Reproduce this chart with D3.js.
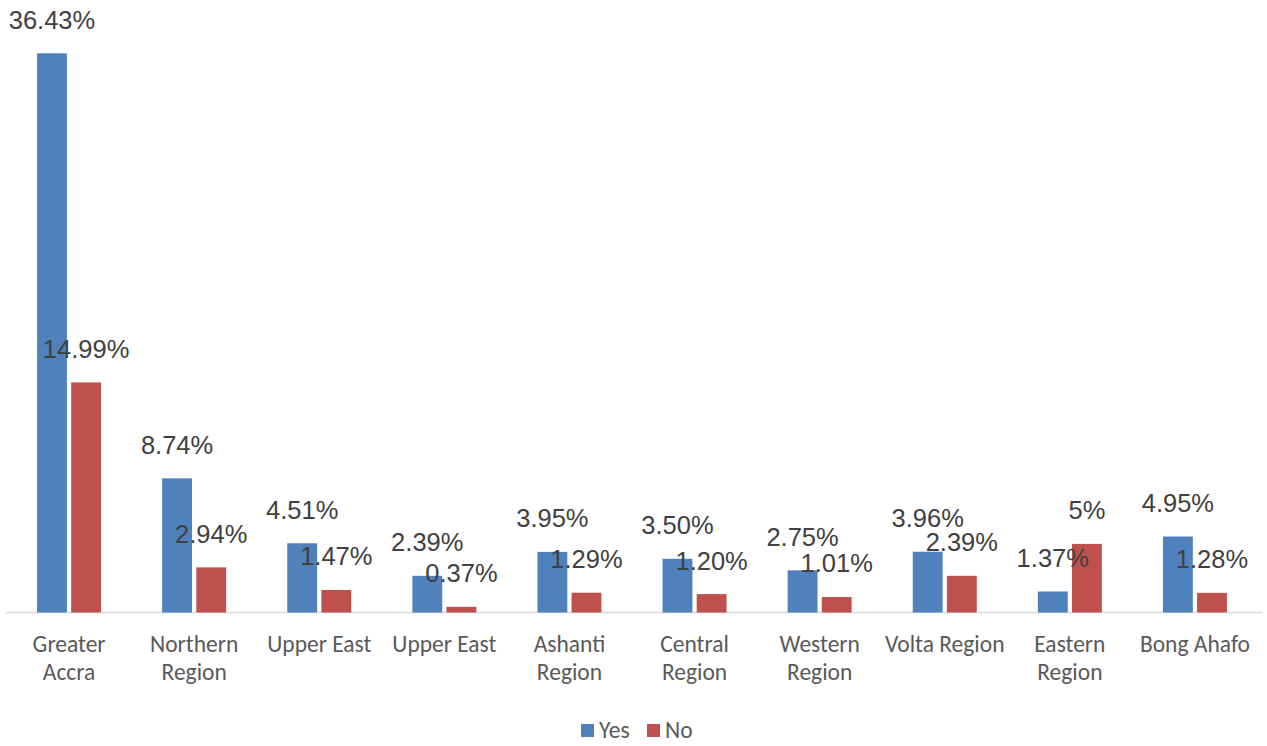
<!DOCTYPE html>
<html>
<head>
<meta charset="utf-8">
<script src="https://cdn.jsdelivr.net/npm/d3@7"></script>
<style>
  body { margin: 0; background: #fff; }
  svg { display: block; }
</style>
</head>
<body>
<div id="chart"></div>
<script>
var regions = ["Greater\nAccra", "Northern\nRegion", "Upper East", "Upper East", "Ashanti\nRegion",
               "Central\nRegion", "Western\nRegion", "Volta Region", "Eastern\nRegion", "Bong Ahafo"];
var yesValues = [36.43, 8.74, 4.51, 2.39, 3.95, 3.50, 2.75, 3.96, 1.37, 4.95];
// Eastern "No" bar is drawn lower than its "5%" label suggests
var noValues  = [14.99, 2.94, 1.47, 0.37, 1.29, 1.20, 1.01, 2.39, 4.47, 1.28];
var yesLabels = ["36.43%", "8.74%", "4.51%", "2.39%", "3.95%", "3.50%", "2.75%", "3.96%", "1.37%", "4.95%"];
var noLabels  = ["14.99%", "2.94%", "1.47%", "0.37%", "1.29%", "1.20%", "1.01%", "2.39%", "5%", "1.28%"];
var seriesNames = ["Yes", "No"];
var seriesColors = ["#4f81bd", "#c0504d"];

(function () {
    var width = 1267, height = 746;
    var baseline = 612.5;

    var svg = d3.select("#chart")
                .append("svg")
                .attr("width", width)
                .attr("height", height);

    var x = d3.scaleBand()
              .domain(d3.range(regions.length))
              .range([6.5, 1257.5]);

    var inner = d3.scaleBand()
                  .domain(seriesNames)
                  .range([x.bandwidth()/2 - 32, x.bandwidth()/2 + 32])
                  .paddingInner(0.125);

    var y = d3.scaleLinear()
              .domain([0, 40])
              .range([baseline, baseline - 614]);

    var rows = regions.map(function (r, i) {
        return [
            {s: "Yes", v: yesValues[i], label: yesLabels[i], c: seriesColors[0]},
            {s: "No",  v: noValues[i],  label: noLabels[i],  c: seriesColors[1]}
        ];
    });

    // axis line
    svg.append("line")
       .attr("x1", 6).attr("x2", 1262)
       .attr("y1", baseline).attr("y2", baseline)
       .attr("stroke", "#d9d9d9")
       .attr("stroke-width", 1.5);

    var groups = svg.selectAll(".region")
                    .data(rows)
                    .enter().append("g")
                    .attr("class", "region")
                    .attr("transform", function (d, i) { return "translate(" + x(i) + ",0)"; });

    groups.selectAll("rect")
          .data(function (d) { return d; })
          .enter().append("rect")
          .attr("x", function (d) { return inner(d.s); })
          .attr("width", inner.bandwidth())
          .attr("y", function (d) { return y(d.v); })
          .attr("height", function (d) { return baseline - y(d.v); })
          .attr("fill", function (d) { return d.c; });

    // value labels
    groups.selectAll("text.val")
          .data(function (d) { return d; })
          .enter().append("text")
          .attr("class", "val")
          .attr("x", function (d) { return inner(d.s) + inner.bandwidth()/2; })
          .attr("y", function (d) { return y(d.v) - 24.5; })
          .attr("text-anchor", "middle")
          .attr("font-family", "'Liberation Sans', Arial, sans-serif")
          .attr("font-size", 25.5)
          .attr("fill", "#404040")
          .text(function (d) { return d.label; });

    // category labels
    svg.selectAll(".cat")
       .data(regions)
       .enter().append("text")
       .attr("class", "cat")
       .attr("text-anchor", "middle")
       .attr("font-family", "Carlito, Calibri, Lato, sans-serif")
       .attr("font-size", 23.5)
       .attr("fill", "#595959")
       .attr("transform", function (d, i) { return "translate(" + (x(i) + x.bandwidth()/2) + ",652)"; })
       .each(function (d) {
           var t = d3.select(this);
           d.split("\n").forEach(function (line, k) {
               t.append("tspan").attr("x", 0).attr("y", k * 28).text(line);
           });
       });

    // legend
    var legend = svg.append("g").attr("transform", "translate(581,724)");
    var legendX = [0, 66];
    seriesNames.forEach(function (name, i) {
        legend.append("rect")
              .attr("x", legendX[i]).attr("y", 0)
              .attr("width", 13).attr("height", 13)
              .attr("fill", seriesColors[i]);
        legend.append("text")
              .attr("x", legendX[i] + 18).attr("y", 14)
              .attr("font-family", "Carlito, Calibri, Lato, sans-serif")
              .attr("font-size", 23.5)
              .attr("fill", "#595959")
              .text(name);
    });
})();
</script>
</body>
</html>
